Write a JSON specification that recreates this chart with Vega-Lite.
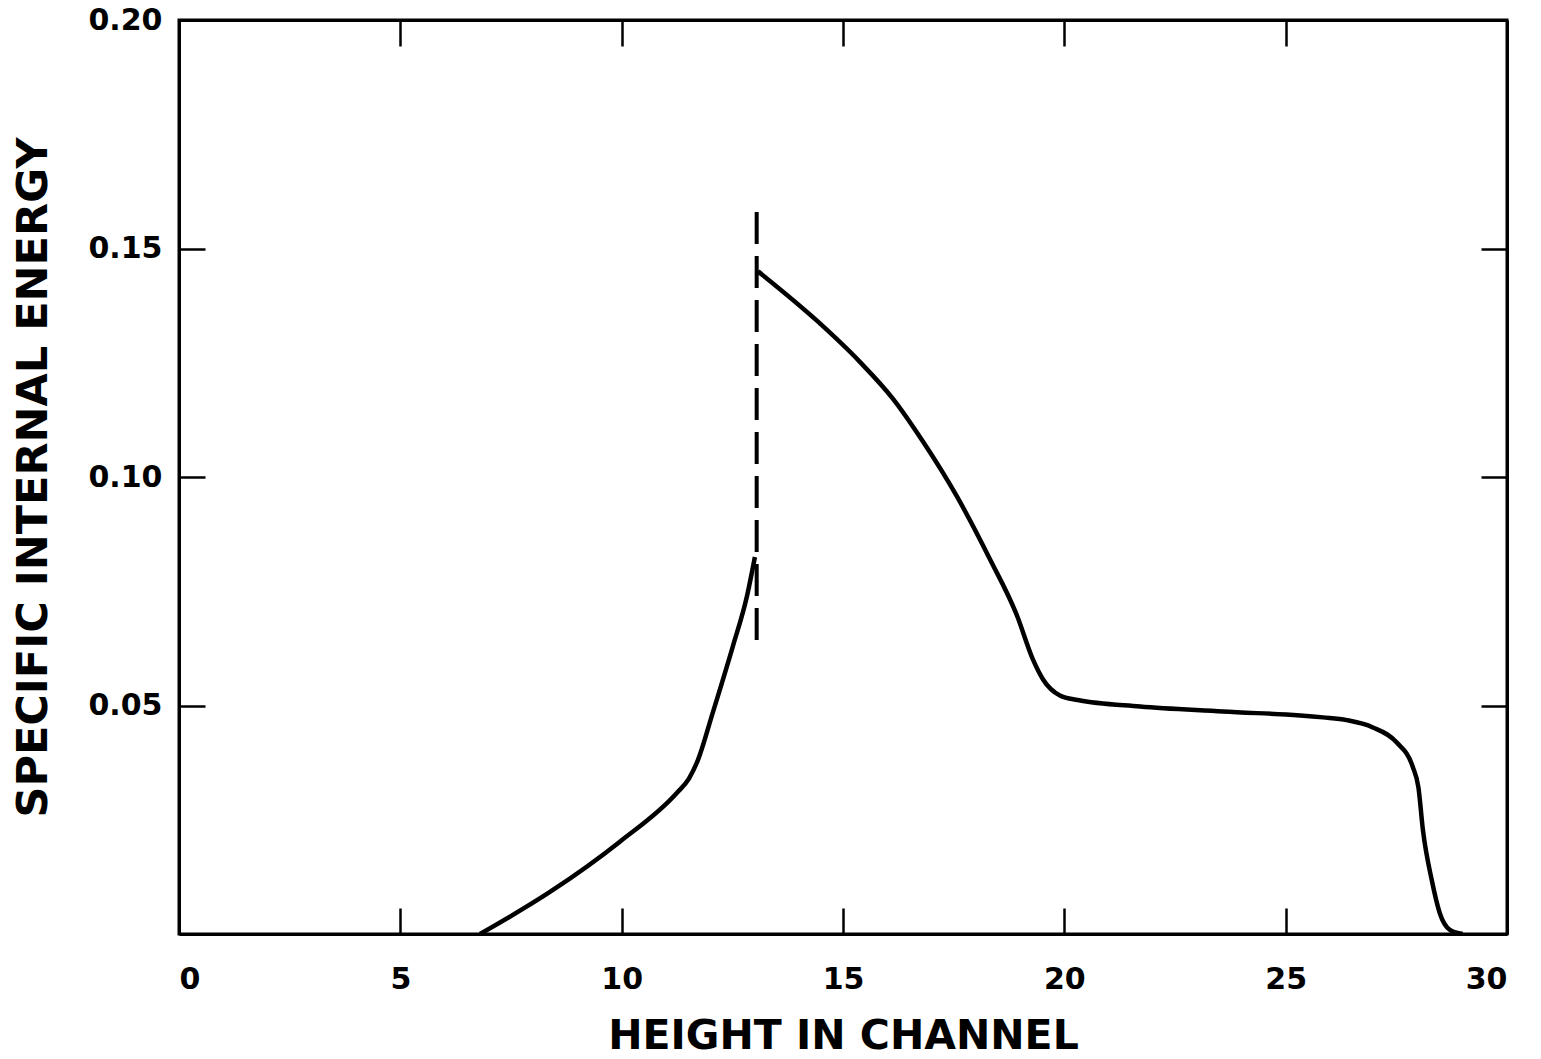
{
  "$schema": "https://vega.github.io/schema/vega-lite/v6.json",
  "autosize": "none",
  "width": 1328,
  "height": 914,
  "padding": {"left": 179, "top": 20, "right": 34, "bottom": 125},
  "background": "white",
  "config": {
    "view": {"stroke": "black", "strokeWidth": 3},
    "axis": {
      "domainColor": "black",
      "domainWidth": 3,
      "tickColor": "black",
      "tickWidth": 2.5,
      "tickSize": -26,
      "grid": false,
      "labelFont": "DejaVu Sans",
      "labelFontWeight": "bold",
      "labelFontSize": 30,
      "labelColor": "black",
      "titleFont": "DejaVu Sans",
      "titleFontWeight": "bold",
      "titleColor": "black"
    }
  },
  "datasets": {
    "curve": [
      {"branch": "A", "height": 6.80, "energy": 0.0},
      {"branch": "A", "height": 8.38, "energy": 0.0092},
      {"branch": "A", "height": 9.96, "energy": 0.0202},
      {"branch": "A", "height": 11.25, "energy": 0.0309},
      {"branch": "A", "height": 11.52, "energy": 0.0340},
      {"branch": "A", "height": 11.72, "energy": 0.0380},
      {"branch": "A", "height": 12.06, "energy": 0.0485},
      {"branch": "A", "height": 12.51, "energy": 0.0629},
      {"branch": "A", "height": 12.83, "energy": 0.0739},
      {"branch": "A", "height": 13.01, "energy": 0.0825},
      {"branch": "B", "height": 13.08, "energy": 0.145},
      {"branch": "B", "height": 14.41, "energy": 0.1342},
      {"branch": "B", "height": 15.38, "energy": 0.1252},
      {"branch": "B", "height": 16.13, "energy": 0.1171},
      {"branch": "B", "height": 16.81, "energy": 0.1077},
      {"branch": "B", "height": 17.57, "energy": 0.0958},
      {"branch": "B", "height": 18.32, "energy": 0.0820},
      {"branch": "B", "height": 18.93, "energy": 0.0697},
      {"branch": "B", "height": 19.29, "energy": 0.0601},
      {"branch": "B", "height": 19.52, "energy": 0.0557},
      {"branch": "B", "height": 19.90, "energy": 0.0522},
      {"branch": "B", "height": 20.30, "energy": 0.0512},
      {"branch": "B", "height": 21.71, "energy": 0.0498},
      {"branch": "B", "height": 23.58, "energy": 0.0487},
      {"branch": "B", "height": 25.84, "energy": 0.0474},
      {"branch": "B", "height": 26.38, "energy": 0.0468},
      {"branch": "B", "height": 26.97, "energy": 0.0452},
      {"branch": "B", "height": 27.51, "energy": 0.0419},
      {"branch": "B", "height": 27.87, "energy": 0.0366},
      {"branch": "B", "height": 28.00, "energy": 0.0320},
      {"branch": "B", "height": 28.10, "energy": 0.0228},
      {"branch": "B", "height": 28.30, "energy": 0.0118},
      {"branch": "B", "height": 28.48, "energy": 0.0046},
      {"branch": "B", "height": 28.71, "energy": 0.0009},
      {"branch": "B", "height": 29.0, "energy": 0.0}
    ],
    "shock": [
      {"height": 13.05, "top": 0.158, "bottom": 0.0638}
    ]
  },
  "layer": [
    {
      "data": {"name": "curve"},
      "mark": {"type": "line", "color": "black", "strokeWidth": 4.5, "interpolate": "monotone", "clip": true},
      "encoding": {
        "x": {
          "field": "height", "type": "quantitative",
          "scale": {"domain": [0, 30], "nice": false, "zero": false},
          "axis": {
            "orient": "bottom",
            "values": [0, 5, 10, 15, 20, 25, 30],
            "format": "d",
            "labelPadding": 56,
            "title": "HEIGHT IN CHANNEL",
            "titleFontSize": 41,
            "titlePadding": 22
          }
        },
        "y": {
          "field": "energy", "type": "quantitative",
          "scale": {"domain": [0, 0.2], "nice": false},
          "axis": {
            "orient": "left",
            "values": [0.05, 0.1, 0.15, 0.2],
            "format": ".2f",
            "labelPadding": 43,
            "title": "SPECIFIC INTERNAL ENERGY",
            "titleFontSize": 43,
            "titlePadding": 32
          }
        },
        "detail": {"field": "branch", "type": "nominal"}
      }
    },
    {
      "data": {"name": "shock"},
      "mark": {"type": "rule", "color": "black", "strokeWidth": 4, "strokeDash": [32, 12]},
      "encoding": {
        "x": {
          "field": "height", "type": "quantitative",
          "scale": {"domain": [0, 30], "nice": false, "zero": false},
          "axis": {"orient": "top", "values": [0, 5, 10, 15, 20, 25, 30], "labels": false, "title": null}
        },
        "y": {
          "field": "top", "type": "quantitative",
          "scale": {"domain": [0, 0.2], "nice": false},
          "axis": {"orient": "right", "values": [0.05, 0.1, 0.15, 0.2], "labels": false, "title": null}
        },
        "y2": {"field": "bottom"}
      }
    }
  ],
  "resolve": {"axis": {"x": "independent", "y": "independent"}}
}
